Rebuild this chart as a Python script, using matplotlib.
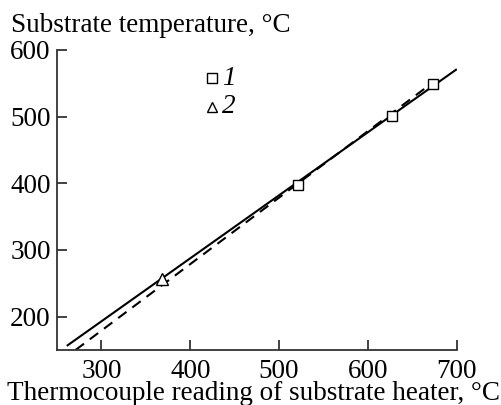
import matplotlib
matplotlib.use("Agg")
import matplotlib.pyplot as plt

plt.rcParams['font.family'] = ['Liberation Serif', 'DejaVu Serif']
plt.rcParams['mathtext.fontset'] = 'stix'

# Measured points
series1_x = [521, 627, 673]
series1_y = [398, 501, 549]
series2_x = [368]
series2_y = [257]

# Calibration lines (end points)
solid_x = [261, 700]
solid_y = [156, 571]
dashed_x = [271, 670]
dashed_y = [150, 548]

fig = plt.figure(figsize=(5.02, 4.05), dpi=100)
ax = fig.add_axes([0.1135, 0.136, 0.7965, 0.741])

ax.plot(solid_x, solid_y, color='black', lw=1.5, solid_capstyle='butt')
ax.plot(dashed_x, dashed_y, color='black', lw=1.5, ls=(0, (5, 3.5)))
ax.plot(series1_x, series1_y, ls='none', marker='s', ms=7.5, mfc='white',
        mec='black', mew=1.0)
ax.plot(series2_x, series2_y, ls='none', marker='^', ms=9, mfc='white',
        mec='black', mew=1.0)

# Legend drawn as marker + italic label
ax.plot([425], [557], ls='none', marker='s', ms=6.5, mfc='white', mec='black', mew=1.0)
ax.plot([425], [515], ls='none', marker='^', ms=7, mfc='white', mec='black', mew=1.0)
ax.text(436, 557, '1', style='italic', fontsize=19.5, va='center', ha='left')
ax.text(436, 515, '2', style='italic', fontsize=19.5, va='center', ha='left')

ax.set_xlim(250, 700)
ax.set_ylim(150, 600)
ax.set_xticks([300, 400, 500, 600, 700])
ax.set_yticks([200, 300, 400, 500, 600])
ax.spines['top'].set_visible(False)
ax.spines['right'].set_visible(False)
for s in ('left', 'bottom'):
    ax.spines[s].set_linewidth(1.3)
    ax.spines[s].set_color('#333333')
ax.tick_params(direction='in', length=7, width=1.3, labelsize=19.5,
               color='#333333')
ax.tick_params(axis='x', pad=6.5)
ax.tick_params(axis='y', pad=4.5)

fig.text(0.022, 1 - 32 / 405, 'Substrate temperature, °C', fontsize=19.5,
         ha='left', va='baseline')
fig.text(0.505, 5 / 405, 'Thermocouple reading of substrate heater, °C', fontsize=19.5,
         ha='center', va='baseline')

fig.savefig('out.png', dpi=100)
